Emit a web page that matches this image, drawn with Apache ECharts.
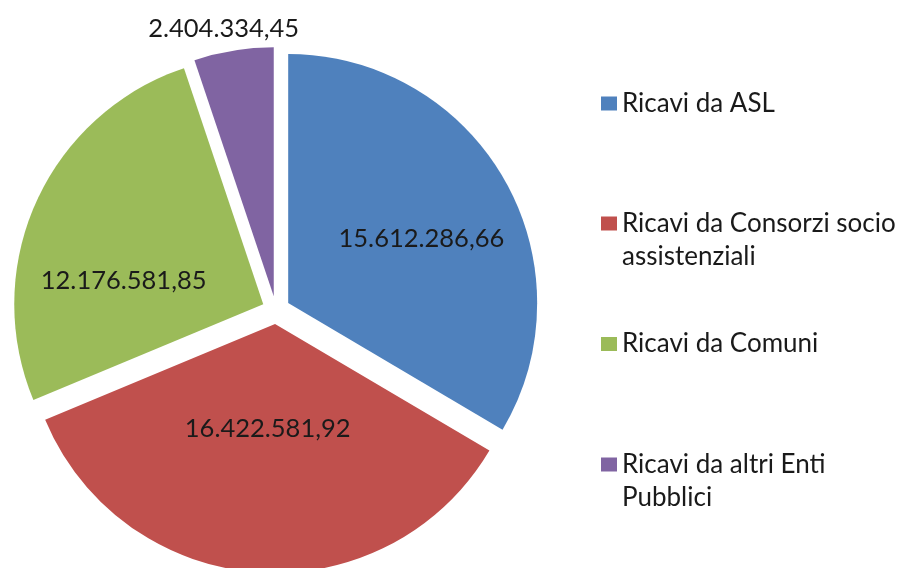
<!DOCTYPE html>
<html>
<head>
<meta charset="utf-8">
<script src="https://cdn.jsdelivr.net/npm/echarts@6/dist/echarts.min.js"></script>
<style>
  html, body { margin: 0; padding: 0; background: #fff; }
  #chart { width: 904px; height: 568px; }
</style>
</head>
<body>
<div id="chart"></div>
<script>
// Chart data -------------------------------------------------
const categories = [
    'Ricavi da ASL',
    'Ricavi da Consorzi socio assistenziali',
    'Ricavi da Comuni',
    'Ricavi da altri Enti Pubblici'
];
const legendLabels = [
    'Ricavi da ASL',
    'Ricavi da Consorzi socio\nassistenziali',
    'Ricavi da Comuni',
    'Ricavi da altri Enti\nPubblici'
];
const values = [15612286.66, 16422581.92, 12176581.85, 2404334.45];

document.addEventListener('DOMContentLoaded', function() {

    const colors = ['#4F81BD', '#C0504D', '#9BBB59', '#8064A2'];
    const font = 'Lato';

    // label nudges, so the numbers sit where the original has them
    const labelNudge = [[22.5, -1.5], [1.5, -22], [-23.5, 29.5], [-29.5, -142]];
    // legend placement per entry
    const legendTops = [87, 174, 327.5, 415];

    const fmt = (v) => {
        const parts = v.toFixed(2).split('.');
        return parts[0].replace(/\B(?=(\d{3})+(?!\d))/g, '.') + ',' + parts[1];
    };

    const legends = categories.map((name, i) => {
        const twoLines = legendLabels[i].indexOf('\n') >= 0;
        return {
            left: 601,
            top: legendTops[i],
            padding: 0,
            orient: 'vertical',
            selectedMode: false,
            icon: 'rect',
            itemWidth: 16,
            itemHeight: 14,
            data: [name],
            // leading blank line keeps the icon level with the first line
            formatter: () => (twoLines ? '\n' : '') + legendLabels[i],
            textStyle: {
                fontFamily: font,
                fontSize: 26,
                lineHeight: 33,
                color: '#1a1a1a'
            }
        };
    });

    const chart = echarts.init(document.getElementById('chart'));
    chart.setOption({
        animation: false,
        backgroundColor: '#fff',
        color: colors,
        legend: legends,
        series: [{
            type: 'pie',
            center: [276, 310],
            radius: [0, 249],
            startAngle: 90,
            clockwise: true,
            selectedMode: 'multiple',
            selectedOffset: 14,
            emphasis: { disabled: true },
            label: {
                show: true,
                position: 'inside',
                fontFamily: font,
                fontSize: 25.5,
                color: '#1a1a1a',
                formatter: (p) => fmt(p.value)
            },
            labelLine: { show: false },
            labelLayout: (p) => ({
                dx: labelNudge[p.dataIndex][0],
                dy: labelNudge[p.dataIndex][1]
            }),
            data: categories.map((name, i) => ({
                name: name,
                value: values[i],
                selected: true,
                itemStyle: { color: colors[i] },
                select: { itemStyle: { color: colors[i], borderWidth: 0 } }
            }))
        }]
    });

});
</script>
</body>
</html>
